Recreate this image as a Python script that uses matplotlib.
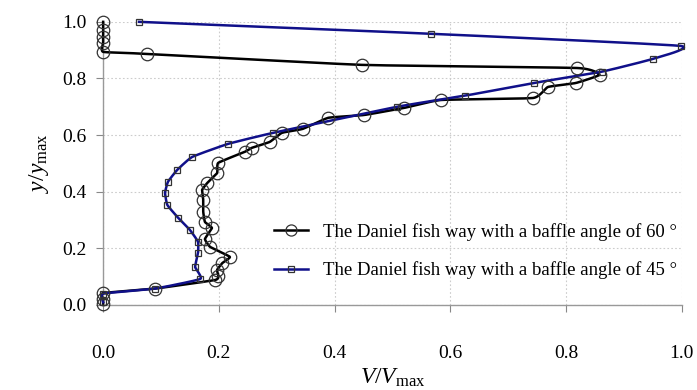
import matplotlib
matplotlib.use("Agg")
import matplotlib.pyplot as plt
import numpy as np

# 60 degree baffle (circles)
v60 = [0.0, 0.0, 0.0, 0.09, 0.193, 0.199, 0.197, 0.206, 0.219, 0.185, 0.176, 0.188,
       0.176, 0.173, 0.173, 0.171, 0.180, 0.197, 0.199, 0.245, 0.257, 0.288, 0.309,
       0.345, 0.389, 0.451, 0.520, 0.584, 0.743, 0.769, 0.817, 0.858, 0.819, 0.447,
       0.076, 0.0, 0.0, 0.0, 0.0, 0.0]
y60 = [0.005, 0.02, 0.042, 0.058, 0.088, 0.102, 0.124, 0.148, 0.170, 0.205, 0.233, 0.272,
       0.293, 0.329, 0.371, 0.406, 0.431, 0.466, 0.502, 0.541, 0.555, 0.576, 0.608,
       0.622, 0.661, 0.671, 0.696, 0.724, 0.731, 0.770, 0.784, 0.813, 0.837, 0.848,
       0.887, 0.894, 0.926, 0.947, 0.972, 1.0]

# 45 degree baffle (squares)
v45 = [0.0, 0.0, 0.09, 0.168, 0.159, 0.164, 0.164, 0.150, 0.130, 0.111, 0.107, 0.112,
       0.128, 0.154, 0.216, 0.294, 0.508, 0.625, 0.744, 0.862, 0.950, 0.998, 0.566, 0.062]
y45 = [0.01, 0.04, 0.058, 0.092, 0.134, 0.184, 0.223, 0.265, 0.307, 0.353, 0.396, 0.435,
       0.477, 0.523, 0.569, 0.608, 0.700, 0.739, 0.784, 0.824, 0.869, 0.915, 0.958, 1.0]

label60 = "The Daniel fish way with a baffle angle of 60 °"
label45 = "The Daniel fish way with a baffle angle of 45 °"
ticks = [0.0, 0.2, 0.4, 0.6, 0.8, 1.0]
tick_labels = ["0.0", "0.2", "0.4", "0.6", "0.8", "1.0"]


def smooth(xs, ys, n=12, tension=0.5):
    """Catmull-Rom style smoothing through the given points (like Excel smoothed lines)."""
    p = np.column_stack([xs, ys]).astype(float)
    out = [p[0]]
    for i in range(len(p) - 1):
        p0 = p[i - 1] if i > 0 else p[i]
        p1, p2 = p[i], p[i + 1]
        p3 = p[i + 2] if i + 2 < len(p) else p[i + 1]
        m1 = tension * (p2 - p0)
        m2 = tension * (p3 - p1)
        t = np.linspace(0, 1, n + 1)[1:, None]
        h00 = 2 * t**3 - 3 * t**2 + 1
        h10 = t**3 - 2 * t**2 + t
        h01 = -2 * t**3 + 3 * t**2
        h11 = t**3 - t**2
        seg = h00 * p1 + h10 * m1 + h01 * p2 + h11 * m2
        out.extend(seg)
    out = np.array(out)
    return out[:, 0], out[:, 1]


plt.rcParams['font.family'] = ['Liberation Serif', 'DejaVu Serif']
plt.rcParams['mathtext.fontset'] = 'custom'
plt.rcParams['mathtext.it'] = 'Liberation Serif:italic'
plt.rcParams['mathtext.rm'] = 'Liberation Serif'

fig = plt.figure(figsize=(6.97, 3.90), dpi=100)
ax = fig.add_axes([0.148, 0.218, 0.830, 0.726])

c60 = 'black'
c45 = '#10108a'
sx, sy = smooth(v60, y60, tension=0.2)
ax.plot(sx, sy, color=c60, lw=1.8, clip_on=False, zorder=3)
sx, sy = smooth(v45, y45, tension=0.2)
ax.plot(sx, sy, color=c45, lw=1.8, clip_on=False, zorder=4)
ax.plot(v60, y60, ls='none', marker='o', ms=9, mfc='none',
        mec='#333333', mew=0.9, clip_on=False, zorder=5)
ax.plot(v45, y45, ls='none', marker='s', ms=4.5, mfc='none',
        mec='#333333', mew=0.9, clip_on=False, zorder=6)

# legend proxies
h60, = ax.plot([], [], color=c60, lw=1.8, marker='o', ms=8, mfc='none', mec='#333333', mew=0.9)
h45, = ax.plot([], [], color=c45, lw=1.8, marker='s', ms=4.5, mfc='none', mec='#333333', mew=0.9)

ax.set_xlim(0, 1.0)
ax.set_ylim(0, 1.0)
ax.set_xticks(ticks)
ax.set_xticklabels(tick_labels)
ax.set_yticks(ticks)
ax.set_yticklabels(tick_labels)
ax.tick_params(labelsize=14, color='#888888', length=5, width=0.8)
ax.tick_params(axis='x', pad=24)
ax.tick_params(axis='y', pad=7)
ax.grid(True, linestyle=(0, (1.5, 2)), color='#cccccc', lw=0.8)
ax.set_axisbelow(True)
for s in ['top', 'right']:
    ax.spines[s].set_visible(False)
for s in ['left', 'bottom']:
    ax.spines[s].set_color('#999999')
    ax.spines[s].set_linewidth(1.0)

ax.set_xlabel(r'$V/V_{\mathrm{max}}$', fontsize=17, labelpad=3)
ax.set_ylabel(r'$y/y_{\mathrm{max}}$', fontsize=17, labelpad=8)

ax.legend([h60, h45], [label60, label45], loc='center right',
          bbox_to_anchor=(1.005, 0.19), frameon=False,
          fontsize=13.5, handlelength=1.8, handletextpad=0.8, labelspacing=1.1,
          borderaxespad=0.0)

fig.savefig('out.png', dpi=100)
